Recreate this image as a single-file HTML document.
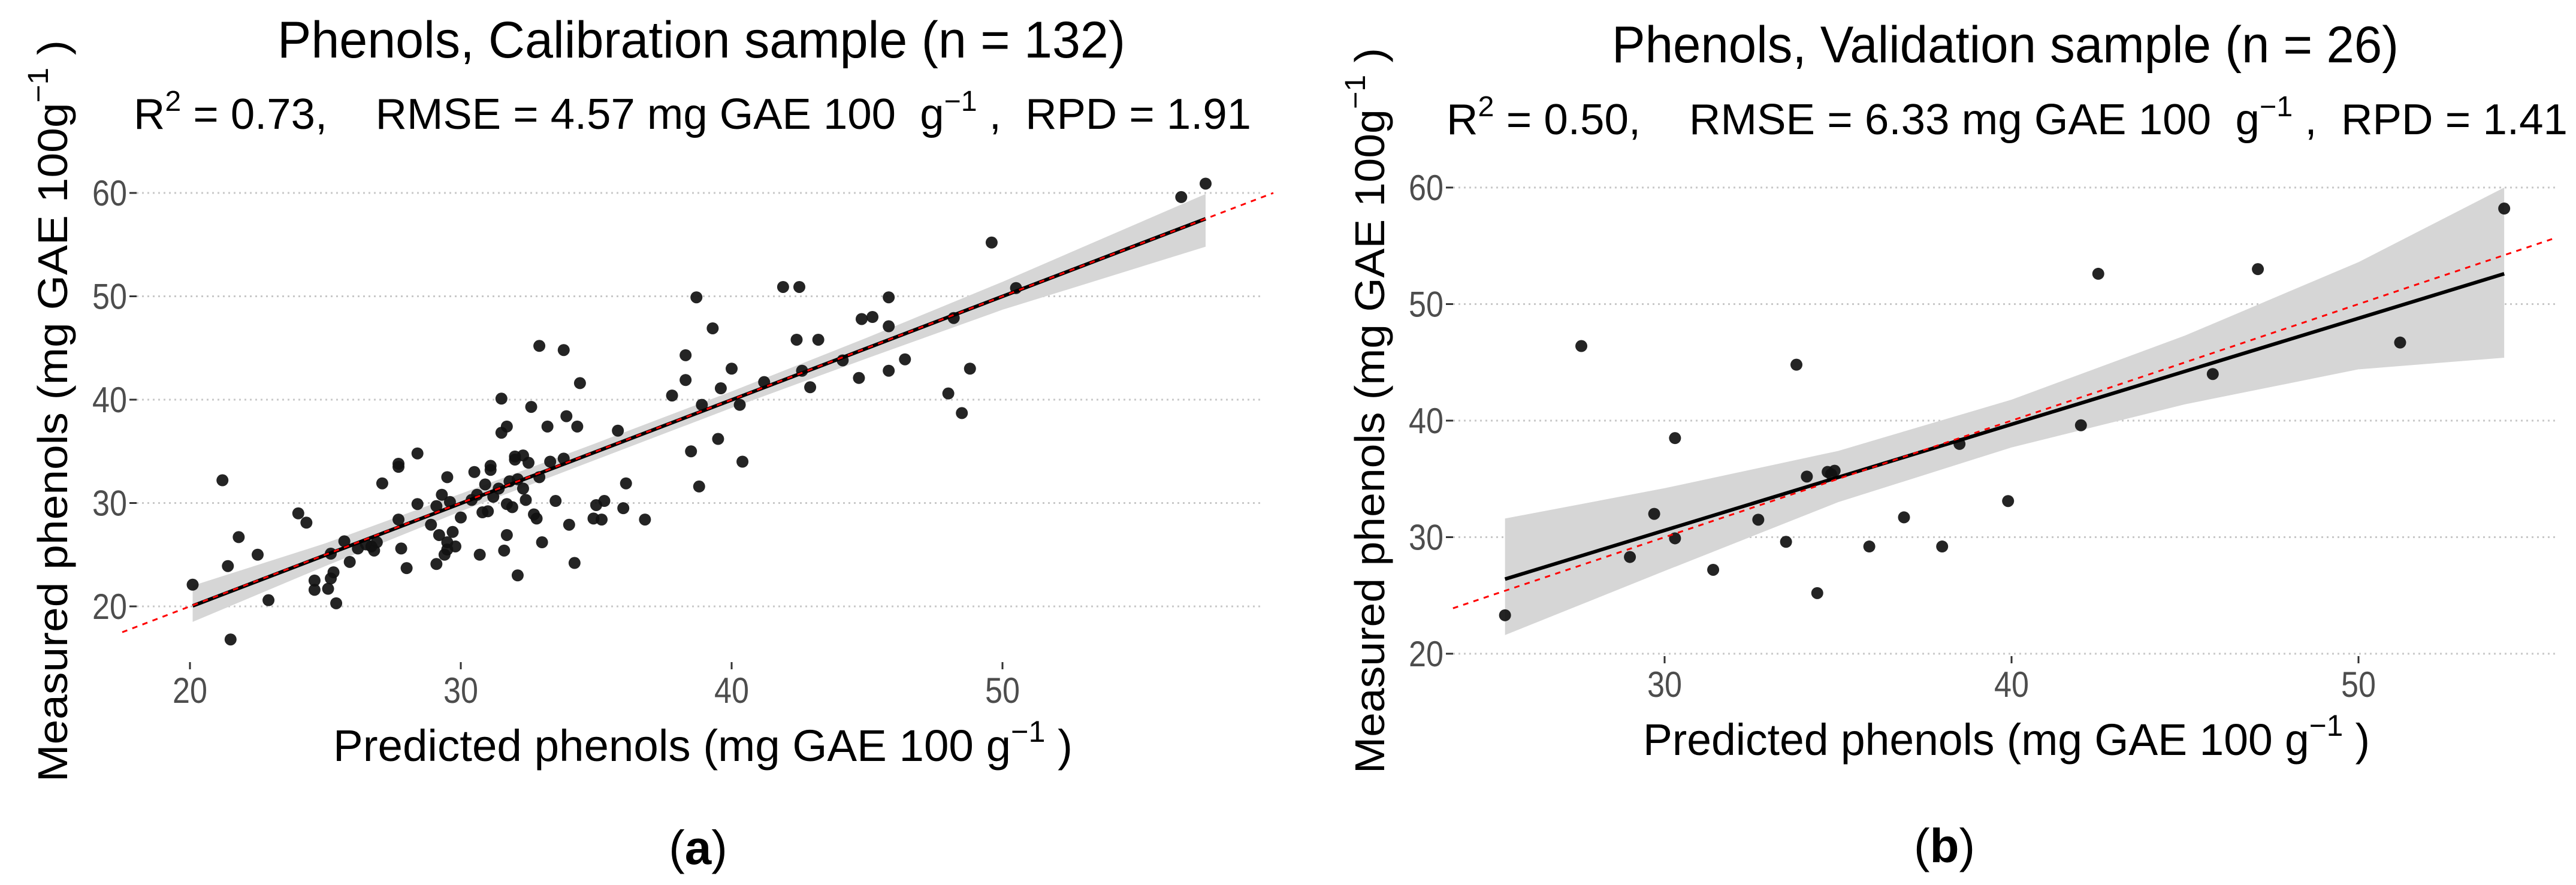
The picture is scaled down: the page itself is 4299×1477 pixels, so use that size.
<!DOCTYPE html>
<html><head><meta charset="utf-8">
<style>
html,body{margin:0;padding:0;background:#fff;}
svg{display:block;}
text{font-family:"Liberation Sans",Arial,sans-serif;white-space:pre;}
</style></head>
<body>
<svg id="fig" width="4299" height="1477" viewBox="0 0 4299 1477" xmlns="http://www.w3.org/2000/svg">
<rect x="0" y="0" width="4299" height="1477" fill="#fff"/>
<g id="pa"></g>
<g id="pb"></g>
</svg>
<script>
// ---------- Panel (a) data ----------
const calX = [20.1,21.2,21.4,21.5,21.8,22.5,22.9,24.0,24.3,24.6,24.6,25.1,25.2,25.2,25.3,25.4,25.7,25.9,26.5,26.7,26.9,26.8,27.1,27.7,27.7,27.7,27.8,28.0,28.4,28.4,29.1,29.1,29.2,29.4,29.5,29.5,29.5,29.6,29.7,29.8,30.0,30.4,30.5,30.6,30.7,30.8,31.0,31.1,31.1,31.4,31.5,31.5,31.6,31.7,31.7,31.7,31.8,31.9,32.0,32.0,32.1,32.1,32.3,32.3,32.4,32.6,32.7,32.8,32.9,32.9,33.0,33.2,33.3,33.5,33.8,33.8,33.9,34.0,34.2,34.3,34.4,34.9,35.0,35.2,35.3,35.8,36.0,36.1,36.8,37.8,38.3,38.3,38.5,38.7,38.8,38.9,39.3,39.5,39.6,40.0,40.3,40.4,41.2,41.9,42.4,42.5,42.6,42.9,43.2,44.1,44.7,44.8,45.2,45.8,45.8,45.8,46.4,48.0,48.2,48.5,48.8,49.6,50.5,56.6,57.5,26.2,29.3,30.9,31.2,28.9,32.5];
const calY = [22.1,32.2,23.9,16.8,26.7,25.0,20.6,29.0,28.1,22.5,21.6,21.7,25.1,22.7,23.3,20.3,26.3,24.3,26.0,25.8,26.2,25.4,31.9,28.4,33.5,33.8,25.6,23.7,29.9,34.8,29.7,24.1,26.9,25.0,32.5,26.2,25.5,30.1,27.2,25.8,28.6,30.3,33.0,30.8,25.0,29.1,29.2,33.6,33.2,31.4,40.1,36.8,25.4,37.4,29.9,26.9,32.1,29.6,34.5,34.2,32.3,23.0,31.4,34.6,30.3,39.3,28.9,28.5,45.2,32.5,26.2,37.4,34.0,30.2,44.8,34.3,38.4,27.9,24.2,37.4,41.6,28.5,29.8,28.4,30.2,37.0,29.5,31.9,28.4,40.4,41.9,44.3,35.0,49.9,31.6,39.5,46.9,36.2,41.1,43.0,39.5,34.0,41.7,50.9,45.8,50.9,42.8,41.2,45.8,43.8,42.1,47.8,48.0,49.9,47.1,42.8,43.9,40.6,47.9,38.7,43.0,55.2,50.8,59.6,60.9,25.6,30.8,31.8,30.6,27.9,33.9];
const calBandX  = [20.1,25,30,35,40,45,50,57.5];
const calBandHi = [22.0,26.1,30.9,35.8,40.8,46.0,51.4,59.9];
const calBandLo = [18.5,23.9,29.2,34.2,39.2,44.0,48.7,54.8];
const calFitX = [20.1,57.5];
const calFitY = [20.05,57.5];
const calIdX = [17.5,60];
const calXTicks = [20,30,40,50];
const calYTicks = [20,30,40,50,60];
const calXTickLabels = ["20","30","40","50"];
const calYTickLabels = ["20","30","40","50","60"];

// ---------- Panel (b) data ----------
const valX = [25.4,27.6,29.0,29.7,30.3,30.3,31.4,32.7,33.5,33.8,34.1,34.4,34.7,34.9,35.9,36.9,38.0,38.5,39.9,42.0,42.5,45.8,47.1,51.2,54.2,34.8];
const valY = [23.3,46.4,28.3,32.0,38.5,29.9,27.2,31.5,29.6,44.8,35.2,25.2,35.6,35.7,29.2,31.7,29.2,38.0,33.1,39.6,52.6,44.0,53.0,46.7,58.2,35.4];
const valBandX  = [25.4,30,35,40,45,50,54.2];
const valBandHi = [31.6,34.2,37.4,41.8,47.3,53.6,60.0];
const valBandLo = [21.6,27.1,33.0,37.7,41.4,44.4,45.4];
const valFitX = [25.4,54.2];
const valFitY = [26.4,52.6];
const valIdX = [23.9,55.7];
const valXTicks = [30,40,50];
const valYTicks = [20,30,40,50,60];
const valXTickLabels = ["30","40","50"];
const valYTickLabels = ["20","30","40","50","60"];

const NS = "http://www.w3.org/2000/svg";
function mk(parent, tag, attrs){
  const e = document.createElementNS(NS, tag);
  for (const k in attrs) e.setAttribute(k, attrs[k]);
  parent.appendChild(e);
  return e;
}

function drawPanel(g, cfg){
  const sx = v => cfg.x0 + (v - cfg.xRef) * cfg.xPer;
  const sy = v => cfg.y0 - (v - cfg.yRef) * cfg.yPer;
  cfg.yTicks.forEach((t,i) => {
    const gl = mk(g,'line',{x1:cfg.left,x2:cfg.right,y1:sy(t),y2:sy(t),stroke:'#c8c8c8','stroke-width':3,'stroke-dasharray':'3 6'});
    
    
    const tk = mk(g,'line',{x1:cfg.left-12,x2:cfg.left,y1:sy(t),y2:sy(t),stroke:'#333','stroke-width':3});
    
    
    const lb = mk(g,'text',{x:cfg.left-16,y:sy(t)+21,'text-anchor':'end','font-size':60,fill:'#4d4d4d',textLength:58,lengthAdjust:'spacingAndGlyphs'});
    lb.textContent = cfg.yLabels[i];
    
    
  });
  cfg.xTicks.forEach((t,i) => {
    const tk = mk(g,'line',{x1:sx(t),x2:sx(t),y1:cfg.bottom,y2:cfg.bottom+12,stroke:'#333','stroke-width':3});
    
    
    const lb = mk(g,'text',{x:sx(t),y:cfg.bottom+68,'text-anchor':'middle','font-size':60,fill:'#4d4d4d',textLength:58,lengthAdjust:'spacingAndGlyphs'});
    lb.textContent = cfg.xLabels[i];
    
    
  });
  let d = '';
  cfg.bandX.forEach((v,i) => { d += (i? 'L':'M') + sx(v) + ',' + sy(cfg.bandHi[i]); });
  for (let i = cfg.bandX.length-1; i >= 0; i--) d += 'L' + sx(cfg.bandX[i]) + ',' + sy(cfg.bandLo[i]);
  const band = mk(g,'path',{d:d+'Z',fill:'#d6d6d6'});
  
  
  cfg.px.forEach((v,i) => {
    const c = mk(g,'circle',{cx:sx(v),cy:sy(cfg.py[i]),r:10,fill:'#111','fill-opacity':0.92});
    
    
  });
  const fl = mk(g,'line',{x1:sx(cfg.fitX[0]),y1:sy(cfg.fitY[0]),x2:sx(cfg.fitX[1]),y2:sy(cfg.fitY[1]),stroke:'#000','stroke-width':6});
  
  
  const il = mk(g,'line',{x1:sx(cfg.idX[0]),y1:sy(cfg.idX[0]),x2:sx(cfg.idX[1]),y2:sy(cfg.idX[1]),stroke:'#ff0000','stroke-width':3,'stroke-dasharray':'9 9'});
  
  
}

function addTexts(g, t){
  const ti = mk(g,'text',{x:t.titleX,y:t.titleY,'font-size':86,fill:'#000',textLength:t.titleW,lengthAdjust:'spacingAndGlyphs'});
  ti.textContent = t.title;
  
  

  const st = mk(g,'text',{x:t.subX,y:t.subY,'font-size':72,fill:'#000',textLength:t.subW,lengthAdjust:'spacingAndGlyphs'});
  
  
  st.innerHTML = 'R<tspan dy="-30" font-size="48">2</tspan><tspan dy="30"> = '+t.r2+',    RMSE = '+t.rmse+' mg GAE 100  g</tspan><tspan dy="-30" font-size="48">−1</tspan><tspan dy="30"> ,  RPD = '+t.rpd+'</tspan>';

  const xt = mk(g,'text',{x:t.xtX,y:t.xtY,'font-size':74,fill:'#000',textLength:t.xtW,lengthAdjust:'spacingAndGlyphs'});
  
  
  xt.innerHTML = 'Predicted phenols (mg GAE 100 g<tspan dy="-32" font-size="50">−1</tspan><tspan dy="32"> )</tspan>';

  const yt = mk(g,'text',{x:0,y:0,'font-size':70,fill:'#000',textLength:t.ytW,lengthAdjust:'spacingAndGlyphs',transform:'translate('+t.ytX+','+t.ytY+') rotate(-90)'});
  
  
  yt.innerHTML = 'Measured phenols (mg GAE 100g<tspan dy="-32" font-size="48">−1</tspan><tspan dy="32"> )</tspan>';

  const pl = mk(g,'text',{x:t.plX,y:t.plY,'text-anchor':'middle','font-size':80,fill:'#000','font-family':'"Liberation Serif",serif'});
  
  
  pl.innerHTML = '(<tspan font-weight="bold">'+t.pl+'</tspan>)';
}

drawPanel(document.getElementById('pa'), {
  x0:317, xRef:20, xPer:45.2, y0:1012, yRef:20, yPer:17.25,
  left:228, right:2108, bottom:1105,
  xTicks:calXTicks, yTicks:calYTicks, xLabels:calXTickLabels, yLabels:calYTickLabels,
  px:calX, py:calY, bandX:calBandX, bandHi:calBandHi, bandLo:calBandLo,
  fitX:calFitX, fitY:calFitY, idX:calIdX
});
addTexts(document.getElementById('pa'), {
  title:'Phenols, Calibration sample (n = 132)', titleX:463, titleY:96, titleW:1415,
  subX:223, subY:215, subW:1865, r2:'0.73', rmse:'4.57', rpd:'1.91',
  xtX:556, xtY:1270, xtW:1234,
  ytX:112, ytY:1305, ytW:1238,
  plX:1165, plY:1442, pl:'a'
});

drawPanel(document.getElementById('pb'), {
  x0:2778, xRef:30, xPer:57.9, y0:1091, yRef:20, yPer:19.45,
  left:2425, right:4265, bottom:1095,
  xTicks:valXTicks, yTicks:valYTicks, xLabels:valXTickLabels, yLabels:valYTickLabels,
  px:valX, py:valY, bandX:valBandX, bandHi:valBandHi, bandLo:valBandLo,
  fitX:valFitX, fitY:valFitY, idX:valIdX
});
addTexts(document.getElementById('pb'), {
  title:'Phenols, Validation sample (n = 26)', titleX:2690, titleY:104, titleW:1313,
  subX:2414, subY:224, subW:1871, r2:'0.50', rmse:'6.33', rpd:'1.41',
  xtX:2742, xtY:1260, xtW:1213,
  ytX:2310, ytY:1291, ytW:1211,
  plX:3245, plY:1439, pl:'b'
});
</script>
</body></html>
